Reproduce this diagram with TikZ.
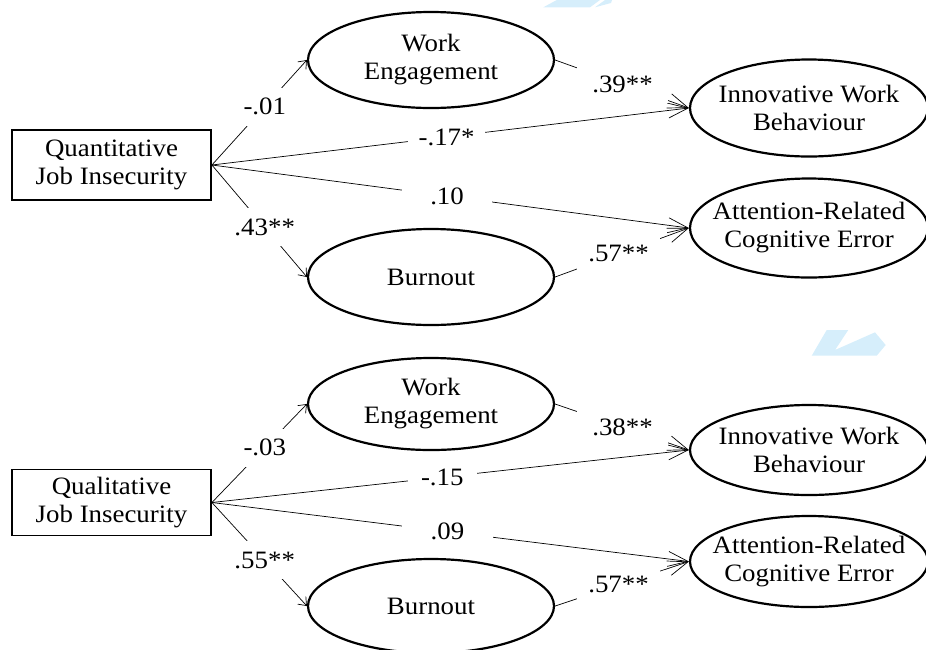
\documentclass[tikz,border=0pt]{standalone}
\usepackage{fontspec}
\setmainfont{Liberation Serif}[FakeStretch=1.075]
\usetikzlibrary{shapes.geometric,arrows.meta}

\definecolor{wmblue}{RGB}{214,238,251}

\tikzset{
  observed/.style={
    rectangle,
    draw,
    line width=1.8pt,
    minimum width=199pt,
    minimum height=70pt,
    inner sep=2pt,
    align=center
  },
  latent/.style={
    ellipse,
    draw,
    line width=2.2pt,
    minimum width=246pt,
    minimum height=96pt,
    inner xsep=-40pt,
    inner ysep=0pt,
    align=center
  },
  outcome/.style={latent, minimum width=238pt},
  coef/.style={fill=white, inner sep=0pt, minimum height=38pt, minimum width=#1},
  coef/.default=76pt,
  effect/.style={line width=0.7pt, -{Straight Barb[length=7pt,width=11pt]}},
  effectlong/.style={line width=0.7pt, -{Straight Barb[length=20pt,width=15pt]}},
}

\begin{document}
\begin{tikzpicture}[x=1pt, y=-1pt, font=\fontsize{25}{28}\selectfont]
  \useasboundingbox (0,0) rectangle (926,649);
  \fill[wmblue] (543.3,7.3) -- (556.7,0) -- (600,0) -- (590,7.3) -- cycle;
  \fill[wmblue] (595,7.3) -- (605,0) -- (612,0) -- (611,3) -- cycle;
  \fill[wmblue] (811.7,355.7) -- (826.7,330) -- (848.3,330) -- (835,350)
    -- (875,332.3) -- (885.7,345) -- (876.7,355.7) -- cycle;

  % quantitative
  \node[observed] (qnt1) at (111.5,165) {Quantitative\\Job Insecurity};
  \node[latent] (we1) at (431,60) {Work\\Engagement};
  \node[latent] (bo1) at (431,277) {Burnout};
  \node[outcome, minimum height=97pt] (iwb1) at (809,108) {Innovative Work\\Behaviour};
  \node[outcome, minimum height=99pt] (arce1) at (809,228) {Attention-Related\\Cognitive Error};
  \draw[effect] (qnt1.east) -- node[coef, pos=0.557] (c11) {-.01} (we1.west);
  \draw[effect] (qnt1.east) -- node[coef, pos=0.556] (c12) {.43**} (bo1.west);
  \draw[effectlong] (qnt1.east) -- node[coef=77pt, pos=0.492] (c13) {-.17*} (iwb1.west);
  \draw[effectlong] (qnt1.east) -- node[coef=90pt, pos=0.493] (c14) {.10} (arce1.west);
  \draw[effectlong] (we1.east) -- node[coef=91pt, pos=0.504] (c15) {.39**} (iwb1.west);
  \draw[effectlong] (bo1.east) -- node[coef=83pt, pos=0.474] (c16) {.57**} (arce1.west);

  % qualitative
  \node[observed, minimum height=66pt] (qlt2) at (111.5,502.5) {Qualitative\\Job Insecurity};
  \node[latent, minimum height=92pt] (we2) at (431,404) {Work\\Engagement};
  \node[latent, minimum height=94pt] (bo2) at (431,606) {Burnout};
  \node[outcome, minimum height=90pt] (iwb2) at (809,450) {Innovative Work\\Behaviour};
  \node[outcome, minimum height=91pt] (arce2) at (809,561.5) {Attention-Related\\Cognitive Error};
  \draw[effect] (qlt2.east) -- node[coef, pos=0.557] (c21) {-.03} (we2.west);
  \draw[effect] (qlt2.east) -- node[coef, pos=0.556] (c22) {.55**} (bo2.west);
  \draw[effectlong] (qlt2.east) -- node[coef=69pt, pos=0.483] (c23) {-.15} (iwb2.west);
  \draw[effectlong] (qlt2.east) -- node[coef=91pt, pos=0.494] (c24) {.09} (arce2.west);
  \draw[effectlong] (we2.east) -- node[coef=91pt, pos=0.504] (c25) {.38**} (iwb2.west);
  \draw[effectlong] (bo2.east) -- node[coef=83pt, pos=0.474] (c26) {.57**} (arce2.west);
\end{tikzpicture}
\end{document}
